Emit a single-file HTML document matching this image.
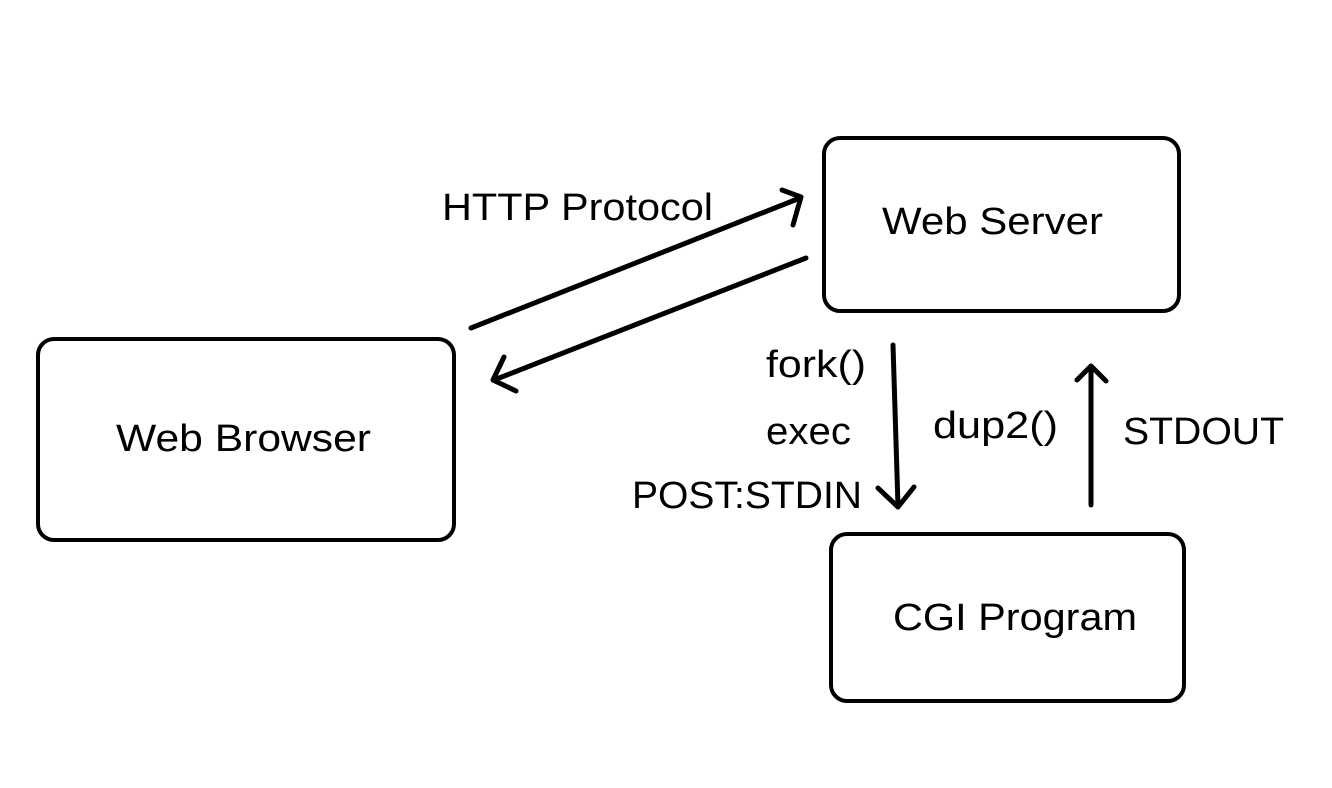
<!DOCTYPE html>
<html><head><meta charset="utf-8"><style>html,body{margin:0;padding:0;background:#fff}</style></head>
<body>
<svg width="1332" height="788" viewBox="0 0 1332 788" xmlns="http://www.w3.org/2000/svg" style="display:block">
<g fill="none" stroke="#000" stroke-width="4">
<rect x="824" y="138" width="355" height="173" rx="16"/>
<rect x="38" y="339" width="416" height="201" rx="16"/>
<rect x="831" y="534" width="353" height="167" rx="16"/>
</g>
<g fill="none" stroke="#000" stroke-width="5" stroke-linecap="round" stroke-linejoin="round">
<line x1="471" y1="328" x2="800" y2="198"/>
<polyline points="782,190 801,197 793,225"/>
<line x1="806" y1="258" x2="494" y2="380"/>
<polyline points="504,357 493,380 516,391"/>
<line x1="893" y1="345" x2="898" y2="506"/>
<polyline points="878,488 898,507 914,487"/>
<line x1="1091" y1="505" x2="1091" y2="367"/>
<polyline points="1077,380 1091,366 1106,381"/>
</g>
<g font-family="Liberation Sans, sans-serif" font-size="38" fill="#000" lengthAdjust="spacingAndGlyphs">
<text x="882" y="234" textLength="221" lengthAdjust="spacingAndGlyphs">Web Server</text>
<text x="116" y="451" textLength="255" lengthAdjust="spacingAndGlyphs">Web Browser</text>
<text x="893" y="630" textLength="244" lengthAdjust="spacingAndGlyphs">CGI Program</text>
<text x="442" y="220" textLength="271" lengthAdjust="spacingAndGlyphs">HTTP Protocol</text>
<text x="766" y="377" textLength="100" lengthAdjust="spacingAndGlyphs">fork()</text>
<text x="766" y="444" textLength="85" lengthAdjust="spacingAndGlyphs">exec</text>
<text x="632" y="508" textLength="230" lengthAdjust="spacingAndGlyphs">POST:STDIN</text>
<text x="933" y="438" textLength="125" lengthAdjust="spacingAndGlyphs">dup2()</text>
<text x="1123" y="444" textLength="161" lengthAdjust="spacingAndGlyphs">STDOUT</text>
</g>
</svg>
</body></html>
